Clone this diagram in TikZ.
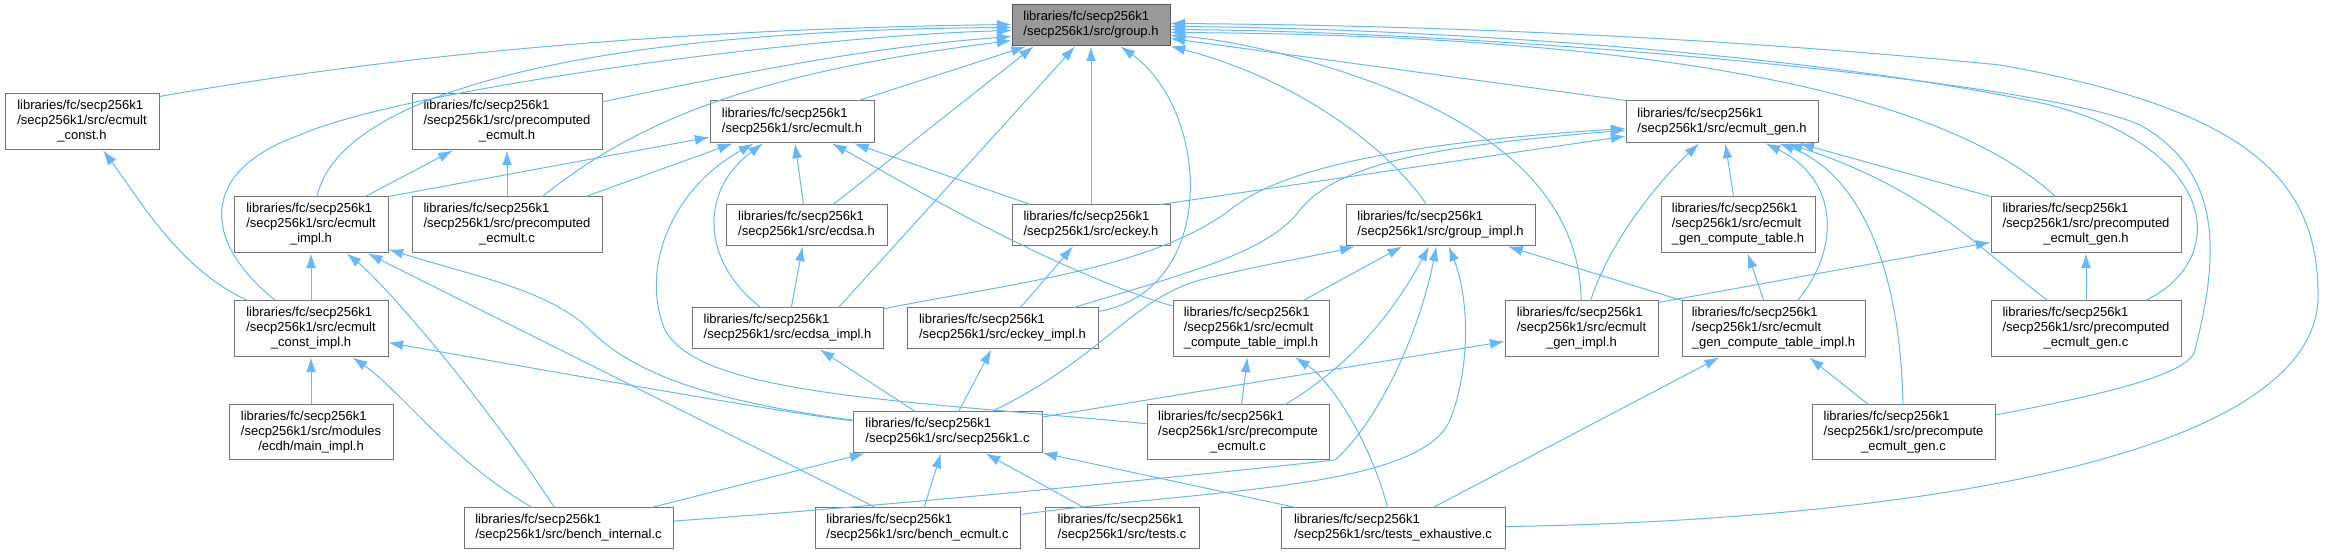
\documentclass[tikz,border=0pt]{standalone}
\usepackage{fontspec}
\setmainfont{Liberation Sans}
\usepackage{xcolor}
\usepackage{tikz}
\usetikzlibrary{arrows.meta,calc}
\definecolor{edgeblue}{HTML}{63B8FF}
\newcommand{\incfile}[1]{\begin{tabular}{@{}l@{}}libraries/fc/secp256k1\\/secp256k1/src/#1\end{tabular}}
\newcommand{\incfilex}[2]{\begin{tabular}{@{}l@{}}libraries/fc/secp256k1\\/secp256k1/src/#1\\\multicolumn{1}{@{}c@{}}{#2}\end{tabular}}
\tikzset{
  srcfile/.style={
    draw=black!55,
    line width=0.75pt,
    fill=white,
    inner sep=1pt,
    font=\fontsize{9.75}{11.25}\selectfont
  },
  rootfile/.style={
    srcfile,
    fill=black!40,
    draw=black!65
  },
  boxsize/.style 2 args={
    minimum width=#1*0.75pt,
    minimum height=#2*0.75pt
  },
  incarrow/.style={
    -{Latex[length=11pt,width=7.5pt]},
    line width=0.75pt,
    draw=edgeblue
  }
}

\begin{document}
\begin{tikzpicture}[x=0.75pt,y=-0.75pt]
    \useasboundingbox (0,0) rectangle (2325,555);
    \node[rootfile, boxsize={158}{41}] (grp) at (1091,25.5) {\incfile{group.h}};
    \node[srcfile, boxsize={154}{56}] (ecconst) at (82,122) {\incfilex{ecmult}{\_const.h}};
    \node[srcfile, boxsize={190}{56}] (preech) at (507,122) {\incfilex{precomputed}{\_ecmult.h}};
    \node[srcfile, boxsize={164}{42}] (ecmult) at (792,122) {\incfile{ecmult.h}};
    \node[srcfile, boxsize={192}{42}] (ecgen) at (1722,122) {\incfile{ecmult\_gen.h}};
    \node[srcfile, boxsize={154}{56}] (ecimpl) at (311,225) {\incfilex{ecmult}{\_impl.h}};
    \node[srcfile, boxsize={190}{56}] (preecc) at (507,225) {\incfilex{precomputed}{\_ecmult.c}};
    \node[srcfile, boxsize={161}{41}] (ecdsa) at (806.5,225.5) {\incfile{ecdsa.h}};
    \node[srcfile, boxsize={158}{41}] (eckey) at (1091,225.5) {\incfile{eckey.h}};
    \node[srcfile, boxsize={189}{41}] (grpimpl) at (1440.5,225.5) {\incfile{group\_impl.h}};
    \node[srcfile, boxsize={154}{56}] (gentab) at (1738,225) {\incfilex{ecmult}{\_gen\_compute\_table.h}};
    \node[srcfile, boxsize={190}{56}] (pregenh) at (2086,225) {\incfilex{precomputed}{\_ecmult\_gen.h}};
    \node[srcfile, boxsize={154}{56}] (constimpl) at (311,329) {\incfilex{ecmult}{\_const\_impl.h}};
    \node[srcfile, boxsize={191}{41}] (dsaimpl) at (787.5,328.5) {\incfile{ecdsa\_impl.h}};
    \node[srcfile, boxsize={191}{41}] (keyimpl) at (1002.5,328.5) {\incfile{eckey\_impl.h}};
    \node[srcfile, boxsize={156}{56}] (tabimpl) at (1251,329) {\incfilex{ecmult}{\_compute\_table\_impl.h}};
    \node[srcfile, boxsize={153}{56}] (genimpl) at (1581.5,329) {\incfilex{ecmult}{\_gen\_impl.h}};
    \node[srcfile, boxsize={183}{56}] (gentabimpl) at (1773.5,329) {\incfilex{ecmult}{\_gen\_compute\_table\_impl.h}};
    \node[srcfile, boxsize={190}{56}] (pregenc) at (2086,329) {\incfilex{precomputed}{\_ecmult\_gen.c}};
    \node[srcfile, boxsize={164}{55}] (ecdh) at (311,432.5) {\incfilex{modules}{/ecdh/main\_impl.h}};
    \node[srcfile, boxsize={189}{41}] (secp) at (947.5,432.5) {\incfile{secp256k1.c}};
    \node[srcfile, boxsize={182}{55}] (preec) at (1238,432.5) {\incfilex{precompute}{\_ecmult.c}};
    \node[srcfile, boxsize={183}{55}] (pregen) at (1903.5,432.5) {\incfilex{precompute}{\_ecmult\_gen.c}};
    \node[srcfile, boxsize={209}{41}] (benchint) at (568.5,528.5) {\incfile{bench\_internal.c}};
    \node[srcfile, boxsize={205}{41}] (benchec) at (917.5,528.5) {\incfile{bench\_ecmult.c}};
    \node[srcfile, boxsize={154}{41}] (tests) at (1122,528.5) {\incfile{tests.c}};
    \node[srcfile, boxsize={224}{41}] (exhaust) at (1393,528.5) {\incfile{tests\_exhaustive.c}};

    \draw[incarrow] ($(ecconst.north east)+(0,3)$) .. controls (450,45) and (750,28) .. ($(grp.west)+(0,-1)$);
    \draw[incarrow] (ecimpl) .. controls (340,90) and (600,30) .. ($(grp.west)+(0,2)$);
    \draw[incarrow] (constimpl) .. controls (200,240) and (200,170) .. (300,135) .. controls (400,90) and (800,36) .. ($(grp.west)+(0,5)$);
    \draw[incarrow] (preech) .. controls (800,60) and (900,45) .. ($(grp.west)+(0,11)$);
    \draw[incarrow] (preecc) .. controls (650,110) and (780,70) .. ($(grp.west)+(0,15)$);
    \draw[incarrow] (ecmult) -- (grp);
    \draw[incarrow] (ecdsa) -- ($(grp.south west)+(22,0)$);
    \draw[incarrow] ($(dsaimpl.north)+(51,0)$) -- ($(grp.south)+(-16,0)$);
    \draw[incarrow] (eckey) -- (grp);
    \draw[incarrow] (keyimpl) .. controls (1220,290) and (1210,110) .. (grp);
    \draw[incarrow] (grpimpl) .. controls (1390,150) and (1300,80) .. (grp);
    \draw[incarrow] (ecgen.north west) -- ($(grp.east)+(0,13)$);
    \draw[incarrow] (genimpl) .. controls (1580,200) and (1500,130) .. (1380,85) .. controls (1300,55) and (1230,40) .. ($(grp.east)+(0,10)$);
    \draw[incarrow] (pregenh) .. controls (1930,80) and (1600,35) .. ($(grp.east)+(0,7)$);
    \draw[incarrow] (pregen) .. controls (2100,395) and (2190,375) .. (2195,350) .. controls (2215,270) and (2230,175) .. (2140,125) .. controls (2040,80) and (1500,32) .. ($(grp.east)+(0,4)$);
    \draw[incarrow] (pregenc) .. controls (2230,260) and (2220,150) .. (2050,105) .. controls (1800,50) and (1400,28) .. ($(grp.east)+(0,1)$);
    \draw[incarrow] (exhaust) .. controls (1900,520) and (2310,460) .. (2318,300) .. controls (2320,180) and (2250,110) .. (2000,65) .. controls (1700,35) and (1400,25) .. ($(grp.east)+(0,-2)$);

    \draw[incarrow] (ecimpl.north east) -- (ecmult);
    \draw[incarrow] (preecc) -- (ecmult);
    \draw[incarrow] (ecdsa) -- (ecmult);
    \draw[incarrow] (eckey) -- (ecmult);
    \draw[incarrow] (dsaimpl) .. controls (700,260) and (700,190) .. (ecmult);
    \draw[incarrow] (preec) .. controls (900,400) and (700,395) .. (665,330) .. controls (640,270) and (670,190) .. (ecmult);
    \draw[incarrow] (tabimpl) .. controls (1050,270) and (900,180) .. (ecmult);
    \draw[incarrow] (constimpl) .. controls (180,270) and (140,200) .. (ecconst);
    \draw[incarrow] (constimpl) -- (ecimpl);
    \draw[incarrow] (benchint) .. controls (470,380) and (380,280) .. (ecimpl);
    \draw[incarrow] (benchec) -- (ecimpl);
    \draw[incarrow] (secp) .. controls (700,400) and (630,370) .. (590,330) .. controls (550,290) and (470,275) .. (ecimpl);
    \draw[incarrow] (ecdh) -- (constimpl);
    \draw[incarrow] (secp) .. controls (780,412) and (600,380) .. (constimpl);
    \draw[incarrow] (benchint) .. controls (450,460) and (400,390) .. (constimpl);
    \draw[incarrow] (ecimpl) -- (preech);
    \draw[incarrow] (preecc) -- (preech);
    \draw[incarrow] (dsaimpl) -- (ecdsa);
    \draw[incarrow] (keyimpl) -- (eckey);
    \draw[incarrow] ($(eckey.north east)+(-10,0)$) -- (ecgen);
    \draw[incarrow] (dsaimpl) .. controls (1000,285) and (1150,270) .. (1230,210) .. controls (1290,160) and (1450,140) .. (ecgen);
    \draw[incarrow] (keyimpl) .. controls (1200,270) and (1270,250) .. (1300,210) .. controls (1340,160) and (1450,145) .. (ecgen);
    \draw[incarrow] (gentab) -- (ecgen);
    \draw[incarrow] (gentabimpl) .. controls (1840,250) and (1840,180) .. (ecgen);
    \draw[incarrow] (genimpl) .. controls (1610,240) and (1660,180) .. (ecgen);
    \draw[incarrow] (pregenh.north west) -- (ecgen);
    \draw[incarrow] (pregenc) .. controls (1980,250) and (1930,190) .. (ecgen);
    \draw[incarrow] (pregen) .. controls (1900,250) and (1850,170) .. (ecgen);
    \draw[incarrow] (secp) .. controls (1100,360) and (1130,300) .. (1200,280) .. controls (1260,265) and (1320,255) .. (grpimpl);
    \draw[incarrow] (tabimpl) -- (grpimpl);
    \draw[incarrow] (preec) .. controls (1360,360) and (1400,300) .. (grpimpl);
    \draw[incarrow] (benchint) .. controls (900,505) and (1200,475) .. (1335,460) .. controls (1380,420) and (1420,330) .. (grpimpl);
    \draw[incarrow] (benchec) .. controls (1200,490) and (1420,490) .. (1450,420) .. controls (1470,370) and (1470,300) .. (grpimpl);
    \draw[incarrow] (gentabimpl) -- (grpimpl);
    \draw[incarrow] (secp) -- (keyimpl);
    \draw[incarrow] (secp) -- (dsaimpl);
    \draw[incarrow] (preec) -- (tabimpl);
    \draw[incarrow] (exhaust) .. controls (1370,440) and (1330,380) .. (tabimpl);
    \draw[incarrow] (secp) -- (genimpl);
    \draw[incarrow] ($(genimpl.north east)+(0,2)$) -- (pregenh);
    \draw[incarrow] (pregenc) -- (pregenh);
    \draw[incarrow] (gentabimpl) -- (gentab);
    \draw[incarrow] (pregen) -- (gentabimpl);
    \draw[incarrow] (exhaust) -- (gentabimpl);
    \draw[incarrow] (benchint) -- (secp);
    \draw[incarrow] (benchec) -- (secp);
    \draw[incarrow] (tests) -- (secp);
    \draw[incarrow] (exhaust) -- (secp);
  \end{tikzpicture}
\end{document}
